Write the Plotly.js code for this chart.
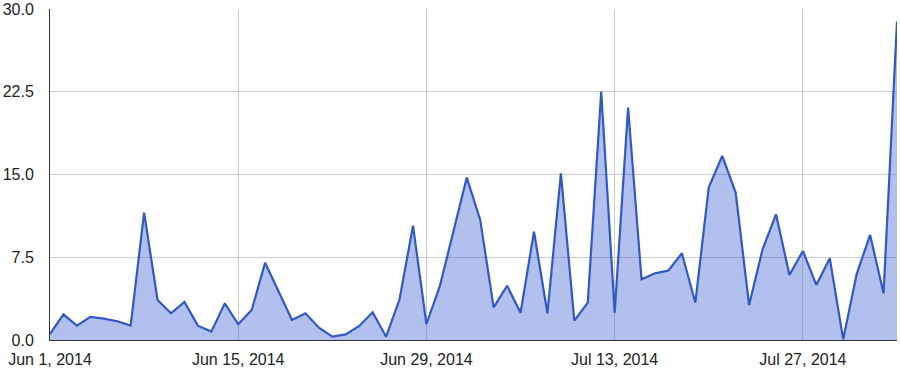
<!DOCTYPE html>
<html>
<head>
<meta charset="utf-8">
<script src="https://cdn.plot.ly/plotly-3.0.1.min.js"></script>
<style>
  html, body { margin: 0; padding: 0; background: #fff; }
  #chart { width: 900px; height: 369px; }
</style>
</head>
<body>
<div id="chart"></div>
<script>
const dates = [
  '2014-06-01','2014-06-02','2014-06-03','2014-06-04','2014-06-05','2014-06-06','2014-06-07','2014-06-08',
  '2014-06-09','2014-06-10','2014-06-11','2014-06-12','2014-06-13','2014-06-14','2014-06-15','2014-06-16',
  '2014-06-17','2014-06-18','2014-06-19','2014-06-20','2014-06-21','2014-06-22','2014-06-23','2014-06-24',
  '2014-06-25','2014-06-26','2014-06-27','2014-06-28','2014-06-29','2014-06-30','2014-07-01','2014-07-02',
  '2014-07-03','2014-07-04','2014-07-05','2014-07-06','2014-07-07','2014-07-08','2014-07-09','2014-07-10',
  '2014-07-11','2014-07-12','2014-07-13','2014-07-14','2014-07-15','2014-07-16','2014-07-17','2014-07-18',
  '2014-07-19','2014-07-20','2014-07-21','2014-07-22','2014-07-23','2014-07-24','2014-07-25','2014-07-26',
  '2014-07-27','2014-07-28','2014-07-29','2014-07-30','2014-07-31','2014-08-01','2014-08-02','2014-08-03'
];
const values = [
  0.54, 2.33, 1.30, 2.09, 1.93, 1.70, 1.30, 11.55,
  3.63, 2.42, 3.45, 1.30, 0.76, 3.32, 1.42, 2.72,
  7.00, 4.38, 1.81, 2.42, 1.12, 0.30, 0.51, 1.27,
  2.51, 0.30, 3.69, 10.36, 1.45, 4.90, 9.80, 14.72,
  10.88, 2.96, 4.92, 2.48, 9.82, 2.42, 15.11, 1.75,
  3.38, 22.51, 2.48, 21.06, 5.50, 6.04, 6.30, 7.86,
  3.38, 13.84, 16.68, 13.36, 3.17, 8.22, 11.39, 5.89,
  8.07, 4.99, 7.40, 0.06, 5.98, 9.52, 4.23, 28.86
];
const xTickVals = ['2014-06-01','2014-06-15','2014-06-29','2014-07-13','2014-07-27'];
const xTickText = ['Jun 1, 2014','Jun 15, 2014','Jun 29, 2014','Jul 13, 2014','Jul 27, 2014'];
const yTickVals = [0, 7.5, 15, 22.5, 30];
const yTickText = ['0.0','7.5','15.0','22.5','30.0'];

const trace = {
  x: dates,
  y: values,
  type: 'scatter',
  mode: 'lines',
  fill: 'tozeroy',
  fillcolor: 'rgba(51,90,204,0.38)',
  line: { color: '#3158c8', width: 2.2 },
  hoverinfo: 'x+y'
};

const layout = {
  width: 900,
  height: 369,
  margin: { l: 50, r: 3, t: 9, b: 29 },
  paper_bgcolor: '#fff',
  plot_bgcolor: '#fff',
  showlegend: false,
  font: { family: 'Liberation Sans, Arial, sans-serif', size: 16, color: '#222' },
  xaxis: {
    type: 'date',
    range: ['2014-06-01', '2014-08-03'],
    tickvals: xTickVals,
    ticktext: xTickText,
    showgrid: true,
    gridcolor: '#cccccc',
    gridwidth: 1,
    showline: true,
    linecolor: '#333',
    linewidth: 1,
    ticks: '',
    zeroline: false,
    ticklabelstandoff: 5
  },
  yaxis: {
    range: [0, 30],
    tickvals: yTickVals,
    ticktext: yTickText,
    showgrid: true,
    gridcolor: '#cccccc',
    gridwidth: 1,
    showline: true,
    linecolor: '#333',
    linewidth: 1,
    ticks: '',
    zeroline: false,
    ticklabelstandoff: 12
  }
};

Plotly.newPlot('chart', [trace], layout, { displayModeBar: false, staticPlot: true });
</script>
</body>
</html>
